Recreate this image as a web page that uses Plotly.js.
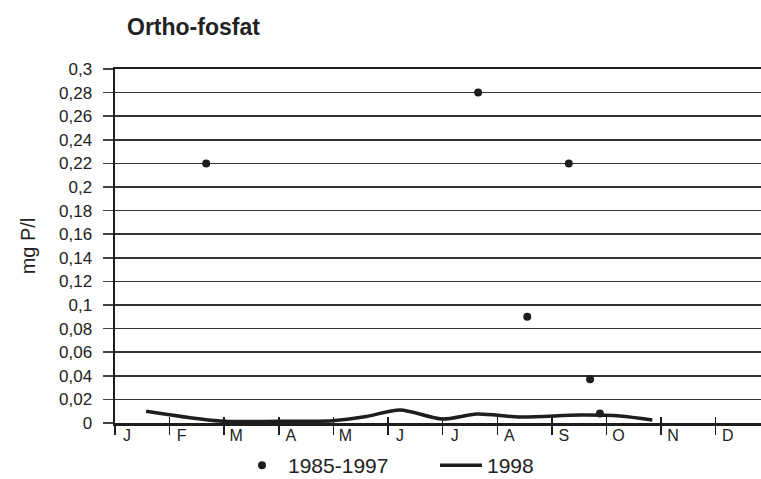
<!DOCTYPE html>
<html>
<head>
<meta charset="utf-8">
<script src="https://cdn.plot.ly/plotly-3.0.1.min.js"></script>
<style>
html,body{margin:0;padding:0;background:#fff;overflow:hidden;}
#chart{width:761px;height:479px;}
</style>
</head>
<body>
<div id="chart"></div>
<script>
// Month labels (x axis is in month units, 0 = 1 January)
var monthLabels = ["J","F","M","A","M","J","J","A","S","O","N","D"];
var monthBounds = [0,1,2,3,4,5,6,7,8,9,10,11];

// Series 1985-1997 (scatter dots)
var histX = [1.67, 6.65, 7.55, 8.31, 8.70, 8.88];
var histY = [0.22, 0.28, 0.09, 0.22, 0.037, 0.008];

// Series 1998 (line)
var y98X = [0.57, 1.92, 3.02, 3.99, 4.6, 5.22, 5.99, 6.63, 7.42, 8.52, 9.25, 9.84];
var y98Y = [0.010, 0.0017, 0.0015, 0.002, 0.0055, 0.011, 0.0034, 0.0076, 0.005, 0.0068, 0.006, 0.0025];

// Y tick labels
var yTickVals = [0,0.02,0.04,0.06,0.08,0.1,0.12,0.14,0.16,0.18,0.2,0.22,0.24,0.26,0.28,0.3];
var yTickText = ["0","0,02","0,04","0,06","0,08","0,1","0,12","0,14","0,16","0,18","0,2","0,22","0,24","0,26","0,28","0,3"];

var labelPos = monthBounds.map(function(v){return v + 0.22;});
var xRange = [0, 11.83];
var ink = "#1e1e1e";

var traces = [
  {
    x: histX, y: histY, type: "scatter", mode: "markers", name: "1985-1997",
    marker: {symbol: "circle", size: 8, color: ink},
    cliponaxis: false
  },
  {
    x: y98X, y: y98Y, type: "scatter", mode: "lines", name: "1998",
    line: {color: ink, width: 3.5, shape: "spline", smoothing: 0.8}
  }
];

var layout = {
  width: 761, height: 479,
  margin: {l: 115, r: 0, t: 69, b: 56, pad: 0, autoexpand: false},
  paper_bgcolor: "#fff", plot_bgcolor: "#fff",
  font: {family: "Liberation Sans, Arial, sans-serif", color: ink},
  title: {
    text: "<b>Ortho-fosfat</b>",
    font: {size: 23, color: "#222", family: "Liberation Sans, Arial, sans-serif"},
    xref: "container", yref: "container",
    x: 127/761, xanchor: "left",
    y: 1 - 27/479, yanchor: "middle"
  },
  showlegend: true,
  legend: {
    orientation: "h",
    xref: "container", yref: "container",
    x: 236/761, xanchor: "left",
    y: 1 - 445/479, yanchor: "top",
    bgcolor: "rgba(0,0,0,0)",
    font: {size: 21, color: "#222"},
    itemwidth: 42,
    entrywidth: 142,
    tracegroupgap: 0
  },
  xaxis: {
    range: xRange, fixedrange: true,
    tickmode: "array", tickvals: monthBounds, ticktext: monthBounds.map(function(){return "";}),
    ticks: "outside", ticklen: 9, tickwidth: 1.5, tickcolor: ink,
    showgrid: false, zeroline: false,
    showline: true, linecolor: ink, linewidth: 2.5, mirror: true
  },
  xaxis2: {
    range: xRange, overlaying: "x", side: "bottom", fixedrange: true,
    tickmode: "array", tickvals: labelPos, ticktext: monthLabels,
    ticks: "", showgrid: false, zeroline: false, showline: false,
    ticklabelstandoff: 1,
    tickfont: {size: 16, color: "#222"}
  },
  xaxis3: {
    range: xRange, overlaying: "x", side: "bottom", fixedrange: true,
    tickmode: "array", tickvals: monthBounds, ticktext: monthBounds.map(function(){return "";}),
    ticks: "inside", ticklen: 6, tickwidth: 1.5, tickcolor: ink,
    showgrid: false, zeroline: false, showline: false
  },
  yaxis: {
    range: [0, 0.3], fixedrange: true,
    tickmode: "array", tickvals: yTickVals, ticktext: yTickText,
    ticks: "outside", ticklen: 10, tickwidth: 1.5, tickcolor: "#444",
    ticklabelstandoff: 7,
    tickfont: {size: 17, color: "#222"},
    showgrid: true, gridcolor: "#333", gridwidth: 1.6,
    zeroline: false,
    showline: true, linecolor: ink, linewidth: 2.5,
    title: {text: "mg P/l", font: {size: 20, color: "#222"}, standoff: 18}
  }
};

// invisible helper traces to activate overlay axes
traces.push({x: [0], y: [0], xaxis: "x2", mode: "markers", marker: {opacity: 0}, showlegend: false, hoverinfo: "skip"});
traces.push({x: [0], y: [0], xaxis: "x3", mode: "markers", marker: {opacity: 0}, showlegend: false, hoverinfo: "skip"});

Plotly.newPlot("chart", traces, layout, {displayModeBar: false, staticPlot: true});
</script>
</body>
</html>
